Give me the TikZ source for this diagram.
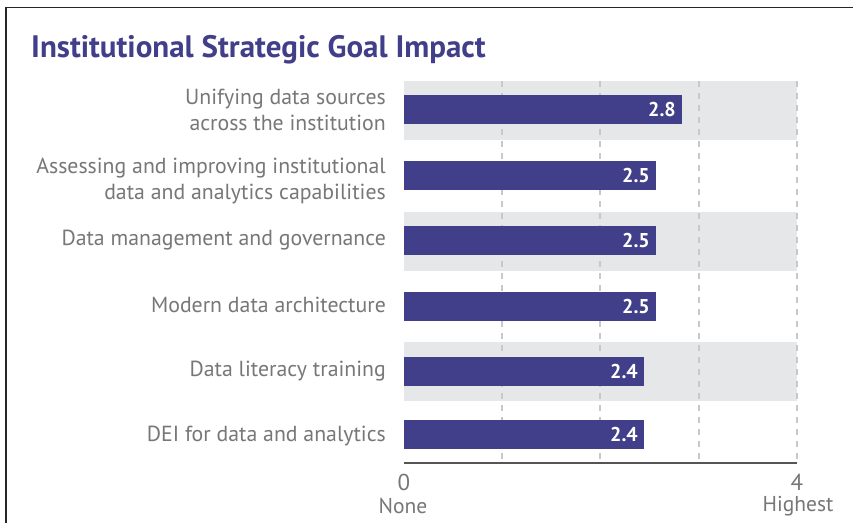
\documentclass[tikz,border=0pt]{standalone}
\usepackage{fontspec}
\setmainfont{PT Sans}
\definecolor{barc}{HTML}{413F8A}
\definecolor{bandc}{HTML}{E6E7E8}
\definecolor{gridc}{HTML}{C8C8C8}
\definecolor{labc}{HTML}{777777}
\definecolor{axc}{HTML}{555555}
\begin{document}
\begin{tikzpicture}[x=1pt,y=-1pt,
  bar/.style={fill=barc,draw=none},
  band/.style={fill=bandc,draw=none},
  grid/.style={draw=gridc,line width=1.2pt,dash pattern=on 6pt off 6pt},
  lab/.style={anchor=east,align=right,text=labc,font=\fontsize{21.8}{26}\selectfont,inner sep=0pt},
  val/.style={anchor=east,text=white,font=\bfseries\fontsize{20}{22}\selectfont,inner sep=0pt},
  tick/.style={text=labc,font=\fontsize{23}{24}\selectfont,inner sep=0pt},
  tickname/.style={text=labc,font=\fontsize{21.5}{22}\selectfont,inner sep=0pt}]
\useasboundingbox (0,0) rectangle (853,523);
\fill[white] (0,0) rectangle (853,523);
\draw[line width=1.5pt,black!85] (6,523) -- (6,7.5) -- (853,7.5);
\node[anchor=base west,inner sep=0pt,text=barc,font=\bfseries\fontsize{31}{34}\selectfont] (title) at (31,57) {Institutional Strategic Goal Impact};
% bands
\fill[band] (404,81) rectangle (797,140);
\fill[band] (404,212) rectangle (797,271);
\fill[band] (404,342) rectangle (797,401);
% grid
\foreach \gx in {502,600,699,797}{\draw[grid] (\gx,81) -- (\gx,462);}
% axis
\coordinate (a0) at (404,463);
\coordinate (a4) at (797,463);
\draw[axc,line width=1.2pt] (a0) -- (a4);
% bars
\path[bar] (404,95) rectangle (682,124) coordinate (b1);
\path[bar] (404,161) rectangle (656,190) coordinate (b2);
\path[bar] (404,226) rectangle (656,255) coordinate (b3);
\path[bar] (404,292) rectangle (656,321) coordinate (b4);
\path[bar] (404,357) rectangle (644,386) coordinate (b5);
\path[bar] (404,420) rectangle (644,449) coordinate (b6);
\node[val] (v1) at (676,109.5) {2.8};
\node[val] (v2) at (650,175.5) {2.5};
\node[val] (v3) at (650,240.5) {2.5};
\node[val] (v4) at (650,306.5) {2.5};
\node[val] (v5) at (638,371.5) {2.4};
\node[val] (v6) at (638,434.5) {2.4};
% labels
\node[lab] (l1) at (386,110) {Unifying data sources\\across the institution};
\node[lab] (l2) at (386,181) {Assessing and improving institutional\\data and analytics capabilities};
\node[lab] (l3) at (386,240) {Data management and governance};
\node[lab] (l4) at (386,305) {Modern data architecture};
\node[lab] (l5) at (386,371) {Data literacy training};
\node[lab] (l6) at (386,436) {DEI for data and analytics};
% ticks
\node[tick] (t0) at (404,482) {0};
\node[tick] (t4) at (797,482) {4};
\node[tickname] (n0) at (403,506) {None};
\node[tickname] (n4) at (798,506) {Highest};
\end{tikzpicture}
\end{document}
